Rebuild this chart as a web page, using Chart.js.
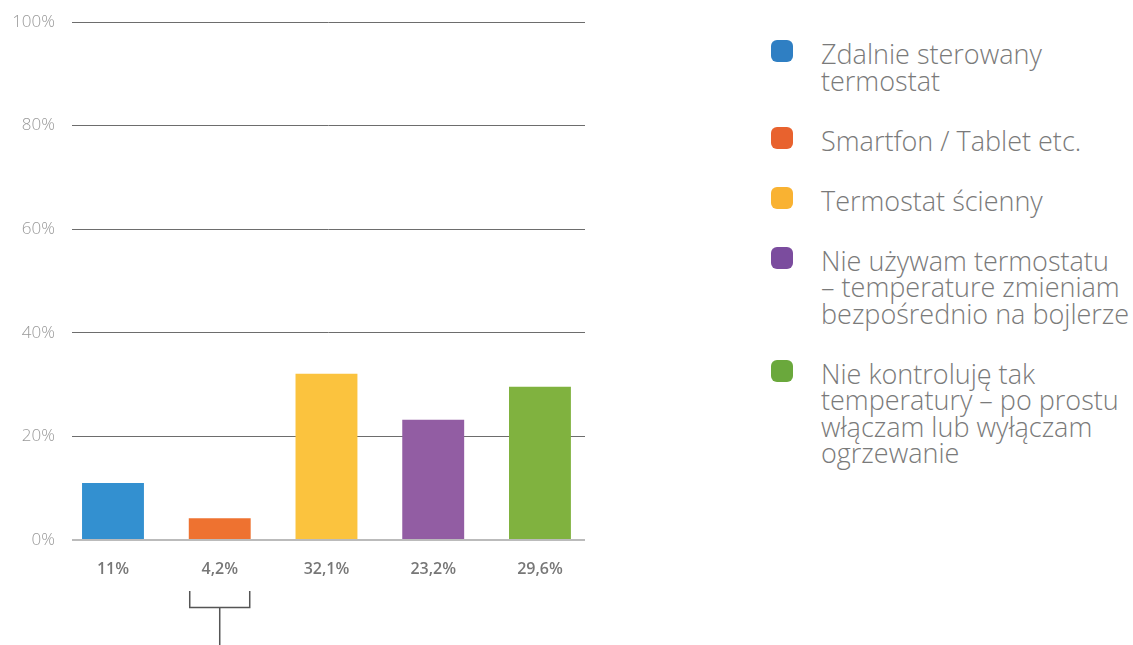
<!DOCTYPE html>
<html>
<head>
<meta charset="utf-8">
<script src="https://cdn.jsdelivr.net/npm/chart.js@4.4.0/dist/chart.umd.min.js"></script>
<style>
  html, body { margin: 0; padding: 0; background: #fff; width: 1133px; height: 645px; overflow: hidden; }
  #wrap { position: absolute; left: 0; top: 0; width: 600px; height: 645px; }
  #legend { position: absolute; left: 771px; top: 41px; display: flex; flex-direction: column; gap: 33.5px;
            font-family: "Open Sans", Lato, sans-serif; font-weight: 300; font-size: 27px; line-height: 26.5px; color: #7a7a7a; }
  .item { position: relative; padding-left: 50px; white-space: nowrap; }
  .sw { position: absolute; left: 0; top: -1px; width: 22px; height: 22px; border-radius: 6px; }
</style>
</head>
<body>
<div id="wrap"><canvas id="c" width="600" height="645"></canvas></div>
<div id="legend"></div>
<script>
const categories = [
  "Zdalnie sterowany<br>termostat",
  "Smartfon / Tablet etc.",
  "Termostat ścienny",
  "Nie używam termostatu<br>– temperature zmieniam<br>bezpośrednio na bojlerze",
  "Nie kontroluję tak<br>temperatury – po prostu<br>włączam lub wyłączam<br>ogrzewanie"
];
const values = [11, 4.2, 32.1, 23.2, 29.6];
const xLabels = ["11%", "4,2%", "32,1%", "23,2%", "29,6%"];
const yTicks = [0, 20, 40, 60, 80, 100];
const barColors = ["#3390d0", "#ee7230", "#fbc33e", "#925da3", "#80b23f"];
const legendColors = ["#2f7fc3", "#e8622e", "#f9b232", "#7b4c9e", "#6aa83c"];

const legend = document.getElementById('legend');
categories.forEach((c, i) => {
  const d = document.createElement('div');
  d.className = 'item';
  d.innerHTML = '<span class="sw" style="background:' + legendColors[i] + '"></span>' + c;
  legend.appendChild(d);
});

const bracket = {
  id: 'bracket',
  afterDraw(chart) {
    const x = chart.scales.x.getPixelForValue(1);
    const ctx = chart.ctx;
    ctx.save();
    ctx.strokeStyle = '#555';
    ctx.lineWidth = 1.5;
    ctx.beginPath();
    ctx.moveTo(x - 30, 591); ctx.lineTo(x - 30, 607.5); ctx.lineTo(x + 30, 607.5); ctx.lineTo(x + 30, 591);
    ctx.moveTo(x, 607.5); ctx.lineTo(x, 645);
    ctx.stroke();
    ctx.restore();
  }
};

new Chart(document.getElementById('c'), {
  type: 'bar',
  data: {
    datasets: [{
      data: values.map((v, i) => ({ x: i, y: v })),
      backgroundColor: barColors,
      barPercentage: 0.58,
      categoryPercentage: 1
    }]
  },
  options: {
    responsive: false,
    animation: false,
    events: [],
    layout: { padding: { top: 22, right: 15, left: 0, bottom: 0 } },
    plugins: { legend: { display: false }, tooltip: { enabled: false } },
    scales: {
      x: {
        type: 'linear',
        offset: false,
        bounds: 'data',
        min: -0.384,
        max: 4.422,
        afterBuildTicks(scale) { scale.ticks = values.map((v, i) => ({ value: i })); },
        afterFit(scale) { scale.height = 105; scale.paddingTop = 0; },
        grid: { display: false, drawTicks: false, offset: false },
        border: { display: false },
        ticks: {
          autoSkip: false, maxRotation: 0, padding: 20,
          color: '#777',
          font: { family: '"Open Sans", Lato, sans-serif', size: 16, weight: 600 },
          callback: (v, i) => xLabels[i]
        }
      },
      y: {
        min: 0, max: 100,
        afterBuildTicks(scale) { scale.ticks = yTicks.map(v => ({ value: v })); },
        afterFit(scale) { scale.width = 72; scale.paddingTop = 0; scale.paddingBottom = 0; },
        grid: {
          drawTicks: false,
          color: c => c.tick && c.tick.value === 0 ? '#bbbbbb' : '#6d6d6d',
          lineWidth: c => c.tick && c.tick.value === 0 ? 2 : 1
        },
        border: { display: false },
        ticks: {
          padding: 17,
          color: '#999',
          font: { family: '"Open Sans", Lato, sans-serif', size: 17, weight: 300 },
          callback: v => v + '%'
        }
      }
    }
  },
  plugins: [bracket]
});
</script>
</body>
</html>
